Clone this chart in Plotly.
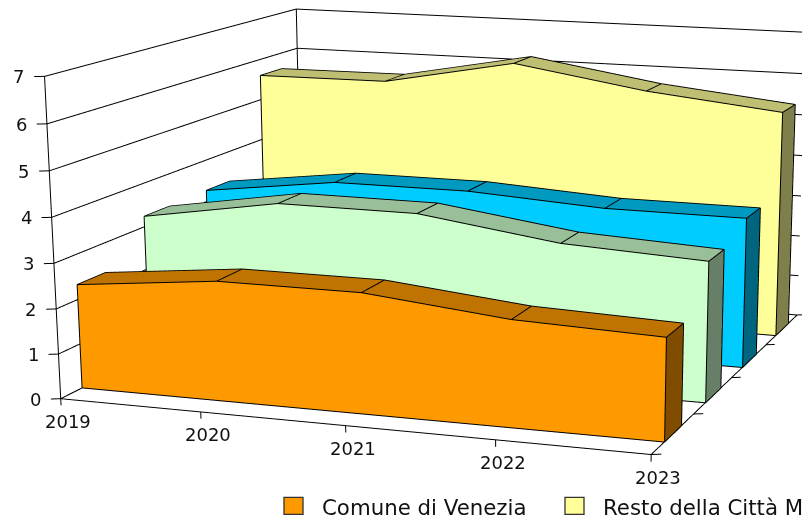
import numpy as np
import plotly.graph_objects as go

# ---- data ----
years = [2019, 2020, 2021, 2022, 2023]
z_ticks = [0, 1, 2, 3, 4, 5, 6, 7]
comune_di_venezia = [2.33, 2.65, 2.65, 2.33, 2.22]
series_green = [3.24, 3.75, 3.74, 3.30, 3.14]
series_cyan = [3.27, 3.67, 3.67, 3.48, 3.47]
resto_citta_metropolitana = [5.60, 5.62, 6.22, 5.72, 5.39]
legend_names = ["Comune di Venezia", "Resto della Città Metropolitana"]

# ---- styles ----
series = [
    (comune_di_venezia, 0.075, ("#ff9900", "#bf7300", "#7f4c00")),
    (series_green, 0.325, ("#ccffcc", "#99bf99", "#667f66")),
    (series_cyan, 0.575, ("#00ccff", "#0099bf", "#00667f")),
    (resto_citta_metropolitana, 0.825, ("#ffff99", "#bfbf73", "#7f7f4c")),
]
BAND = 0.1
RX, RY, RZ = [-0.3, 4.3], [-0.03, 1.03], [-0.4, 7.2]
ASPECT = np.array([0.69, 0.6294, 0.3414])
EYE = np.array([0.9187, -2.4960, 0.5084])
CENTER = np.array([0.2026, -0.2085, -0.2021])
UP = np.array([-0.0927, 0.2688, 0.9587])
W, H, OFF = 1156, 2161, 610.4
INK = "#111111"

# a hair towards the camera so outlines stay above the faces they edge
mid = np.array([sum(RX) / 2, sum(RY) / 2, sum(RZ) / 2])
scale = ASPECT / np.array([RX[1] - RX[0], RY[1] - RY[0], RZ[1] - RZ[0]])
nudge = EYE - (np.array([2, 0.5, 3]) - mid) * scale
nudge = nudge / np.linalg.norm(nudge) * 0.002 / scale

LX, LY, LZ = [], [], []


def seg(a, b, lift=True):
    a, b = np.array(a, float), np.array(b, float)
    if lift:
        a, b = a + nudge, b + nudge
    LX.extend([a[0], b[0], None])
    LY.extend([a[1], b[1], None])
    LZ.extend([a[2], b[2], None])


fig = go.Figure()
for values, y0, (c_front, c_top, c_side) in series:
    y1 = y0 + BAND
    V, I, J, K, FC = [], [], [], [], []

    def quad(a, b, c, d, col):
        n = len(V)
        V.extend([a, b, c, d])
        I.extend([n, n])
        J.extend([n + 1, n + 2])
        K.extend([n + 2, n + 3])
        FC.extend([col, col])

    last = len(values) - 1
    for i in range(last):
        v0, v1 = values[i], values[i + 1]
        quad((i, y0, 0), (i + 1, y0, 0), (i + 1, y0, v1), (i, y0, v0), c_front)
        quad((i, y0, v0), (i + 1, y0, v1), (i + 1, y1, v1), (i, y1, v0), c_top)
        seg((i, y0, v0), (i + 1, y0, v1))
        seg((i, y1, v0), (i + 1, y1, v1))
        seg((i, y0, v0), (i, y1, v0))
    vl = values[last]
    quad((last, y0, 0), (last, y1, 0), (last, y1, vl), (last, y0, vl), c_side)
    seg((last, y0, vl), (last, y1, vl))
    seg((last, y1, 0), (last, y1, vl))
    seg((last, y0, 0), (last, y0, vl))
    seg((last, y0, 0), (last, y1, 0))
    seg((0, y0, 0), (0, y0, values[0]))
    seg((0, y0, 0), (last, y0, 0))
    V = np.array(V, float)
    fig.add_trace(go.Mesh3d(
        x=V[:, 0], y=V[:, 1], z=V[:, 2], i=I, j=J, k=K, facecolor=FC,
        flatshading=True, hoverinfo="skip",
        lighting=dict(ambient=1, diffuse=0, specular=0, roughness=1, fresnel=0),
    ))

# walls, axes and tick marks
x_last = len(years) - 1
z_top = z_ticks[-1]
TICK_X, TICK_Y, TICK_Z = 0.0564, 0.0072, 0.15
for z in z_ticks:
    seg((0, 0, z), (0, 1, z), False)
    seg((0, 1, z), (x_last, 1, z), False)
    seg((0, 0, z), (-TICK_X, -TICK_Y, z), False)
seg((0, 0, 0), (0, 0, z_top), False)
seg((0, 1, 0), (0, 1, z_top), False)
seg((0, 0, 0), (x_last, 0, 0), False)
seg((x_last, 0, 0), (x_last, 1, 0), False)
for i in range(len(years)):
    seg((i, 0, 0), (i, 0, -TICK_Z), False)
for y in (0, 0.25, 0.5, 0.75, 1):
    seg((x_last, y, 0), (x_last + TICK_X, y + TICK_Y, 0), False)
fig.add_trace(go.Scatter3d(x=LX, y=LY, z=LZ, mode="lines",
                           line=dict(color="#000000", width=2), hoverinfo="skip"))

labels = [dict(x=-TICK_X, y=-TICK_Y, z=z, text=str(z), showarrow=False, xanchor="right",
               yanchor="middle", xshift=-8, font=dict(size=18, color=INK)) for z in z_ticks]
labels += [dict(x=i, y=0, z=-TICK_Z, text=str(year), showarrow=False, xanchor="center",
                yanchor="middle", xshift=7, yshift=-16, font=dict(size=18, color=INK))
           for i, year in enumerate(years)]

fig.update_layout(
    width=W, height=H, margin=dict(l=0, r=0, t=0, b=0), paper_bgcolor="white",
    showlegend=False, font=dict(family="DejaVu Sans"),
    scene=dict(
        domain=dict(x=[0, 1], y=[0, 1]), aspectmode="manual",
        aspectratio=dict(x=ASPECT[0], y=ASPECT[1], z=ASPECT[2]),
        xaxis=dict(visible=False, range=RX),
        yaxis=dict(visible=False, range=RY),
        zaxis=dict(visible=False, range=RZ),
        camera=dict(eye=dict(x=EYE[0], y=EYE[1], z=EYE[2]),
                    center=dict(x=CENTER[0], y=CENTER[1], z=CENTER[2]),
                    up=dict(x=UP[0], y=UP[1], z=UP[2]),
                    projection=dict(type="perspective")),
        annotations=labels,
    ),
)

# legend row
for x0, col, name, tx in [(284, series[0][2][0], legend_names[0], 320),
                          (565, series[3][2][0], legend_names[1], 601)]:
    fig.add_shape(type="rect", xref="paper", yref="paper", x0=x0 / W, x1=(x0 + 19) / W,
                  y0=1 - (514 + OFF) / H, y1=1 - (497 + OFF) / H,
                  fillcolor=col, line=dict(color="#333333", width=1.3))
    fig.add_annotation(xref="paper", yref="paper", x=tx / W, y=1 - (507 + OFF) / H, text=name,
                       showarrow=False, xanchor="left", yanchor="middle",
                       font=dict(size=21.3, color=INK))

fig.write_html(
    "out.html",
    post_script=(
        "document.body.style.margin='0';"
        "document.documentElement.style.overflow='hidden';"
        "document.body.style.overflow='hidden';"
        f"document.querySelector('.plotly-graph-div').style.marginTop='{-OFF}px';"
    ),
)
